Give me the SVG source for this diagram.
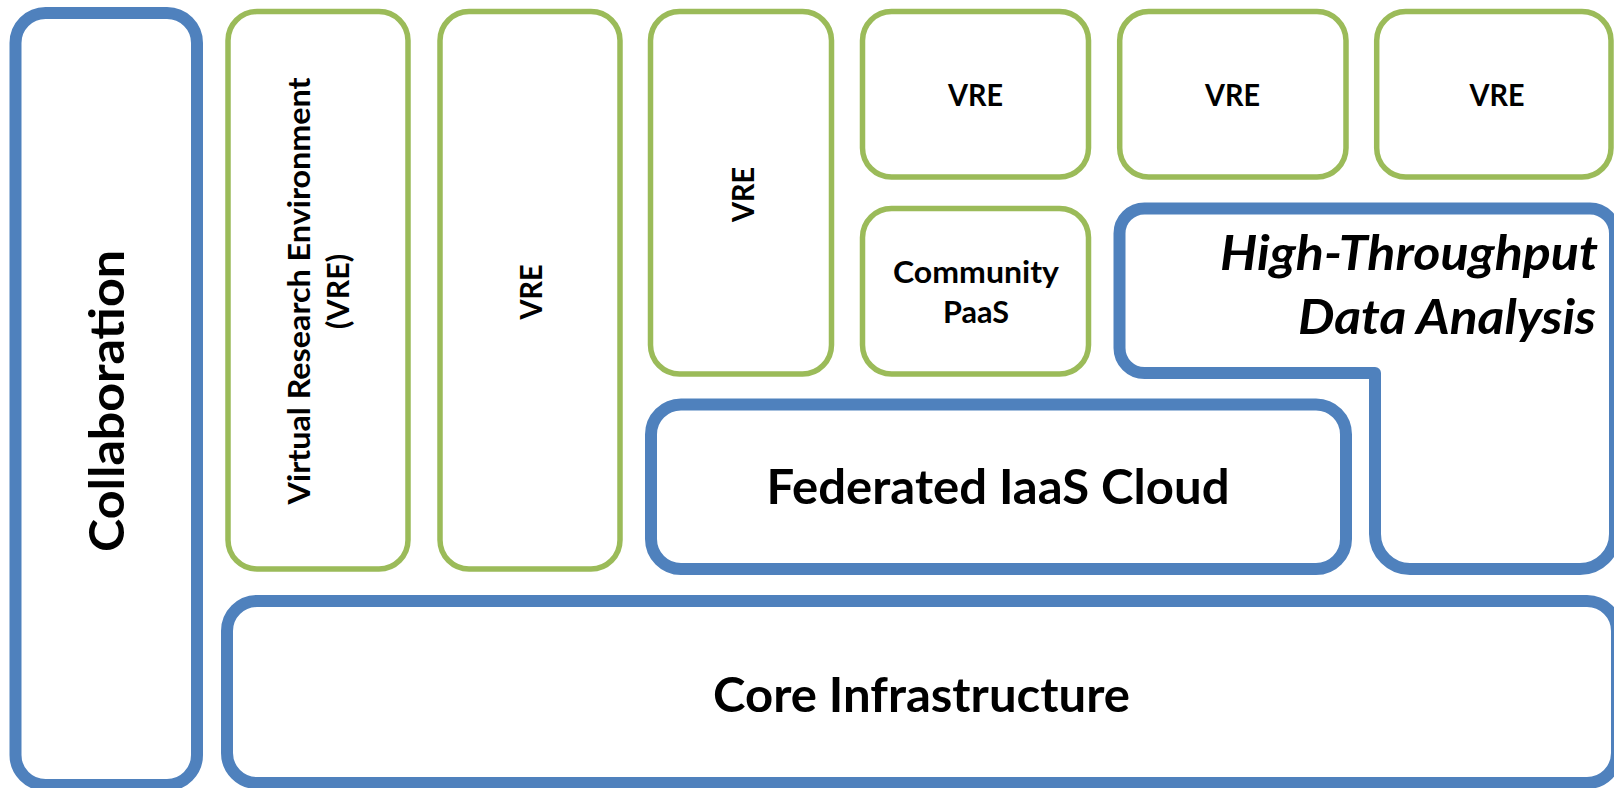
<svg xmlns="http://www.w3.org/2000/svg" width="1614" height="788" viewBox="0 0 1614 788">
<style>
.blue{fill:#fff;stroke:#4F81BD;stroke-width:12;stroke-linejoin:round}
.green{fill:#fff;stroke:#9BBB59;stroke-width:5.5}
.t{font-family:Lato,"Open Sans","Liberation Sans",sans-serif;font-weight:bold;fill:#000;text-anchor:middle}
.s{font-size:29.5px}
.l{font-size:47px}
.it{font-style:italic;text-anchor:end}
</style>
<rect width="1614" height="788" fill="#fff"/>
<g id="collaboration">
<rect class="blue" x="15.5" y="13" width="181.5" height="772" rx="30"/>
<text class="t l" transform="translate(124,401) rotate(-90)" textLength="302" lengthAdjust="spacingAndGlyphs">Collaboration</text>
</g>
<g id="vre1">
<rect class="green" x="228" y="11.5" width="180" height="557.5" rx="29"/>
<text class="t s" transform="translate(309.5,291) rotate(-90)" textLength="427" lengthAdjust="spacingAndGlyphs">Virtual Research  Environment</text>
<text class="t s" transform="translate(349,291.5) rotate(-90)" textLength="75" lengthAdjust="spacingAndGlyphs">(VRE)</text>
</g>
<g id="vre2">
<rect class="green" x="440" y="11.5" width="180" height="557.5" rx="29"/>
<text class="t s" transform="translate(542,292) rotate(-90)" textLength="55" lengthAdjust="spacingAndGlyphs">VRE</text>
</g>
<g id="vre3">
<rect class="green" x="650.5" y="11.5" width="181" height="362.5" rx="29"/>
<text class="t s" transform="translate(754,194.5) rotate(-90)" textLength="55" lengthAdjust="spacingAndGlyphs">VRE</text>
</g>
<g id="vre4">
<rect class="green" x="862.5" y="11.5" width="226" height="165.5" rx="29"/>
<text class="t s" x="975.5" y="106" textLength="55" lengthAdjust="spacingAndGlyphs">VRE</text>
</g>
<g id="community-paas">
<rect class="green" x="862.5" y="208.5" width="226" height="165.5" rx="29"/>
<text class="t s" x="976" y="283" textLength="166" lengthAdjust="spacingAndGlyphs">Community</text>
<text class="t s" x="976" y="323" textLength="66" lengthAdjust="spacingAndGlyphs">PaaS</text>
</g>
<g id="vre5">
<rect class="green" x="1119.7" y="11.5" width="226.3" height="165.5" rx="29"/>
<text class="t s" x="1232.5" y="106" textLength="55" lengthAdjust="spacingAndGlyphs">VRE</text>
</g>
<g id="vre6">
<rect class="green" x="1376.7" y="11.5" width="234.3" height="165.5" rx="29"/>
<text class="t s" x="1497" y="106" textLength="55" lengthAdjust="spacingAndGlyphs">VRE</text>
</g>
<g id="htda">
<path class="blue" d="M1144.5 208.5 H1590 A25 25 0 0 1 1615 233.5 V534 A35 35 0 0 1 1580 569 H1410 A35 35 0 0 1 1375 534 V373 H1144.5 A25 25 0 0 1 1119.5 348 V233.5 A25 25 0 0 1 1144.5 208.5 Z"/>
<text class="t l it" x="1598" y="270" textLength="378" lengthAdjust="spacingAndGlyphs">High-Throughput</text>
<text class="t l it" x="1596" y="334" textLength="298" lengthAdjust="spacingAndGlyphs">Data Analysis</text>
</g>
<g id="federated-iaas">
<rect class="blue" x="651" y="404.5" width="695" height="164.5" rx="30"/>
<text class="t l" x="998" y="504" textLength="463" lengthAdjust="spacingAndGlyphs">Federated IaaS Cloud</text>
</g>
<g id="core">
<rect class="blue" x="227" y="601" width="1390" height="182" rx="30"/>
<text class="t l" x="921.5" y="712" textLength="417" lengthAdjust="spacingAndGlyphs">Core Infrastructure</text>
</g>
<g id="connectors"></g>
</svg>
